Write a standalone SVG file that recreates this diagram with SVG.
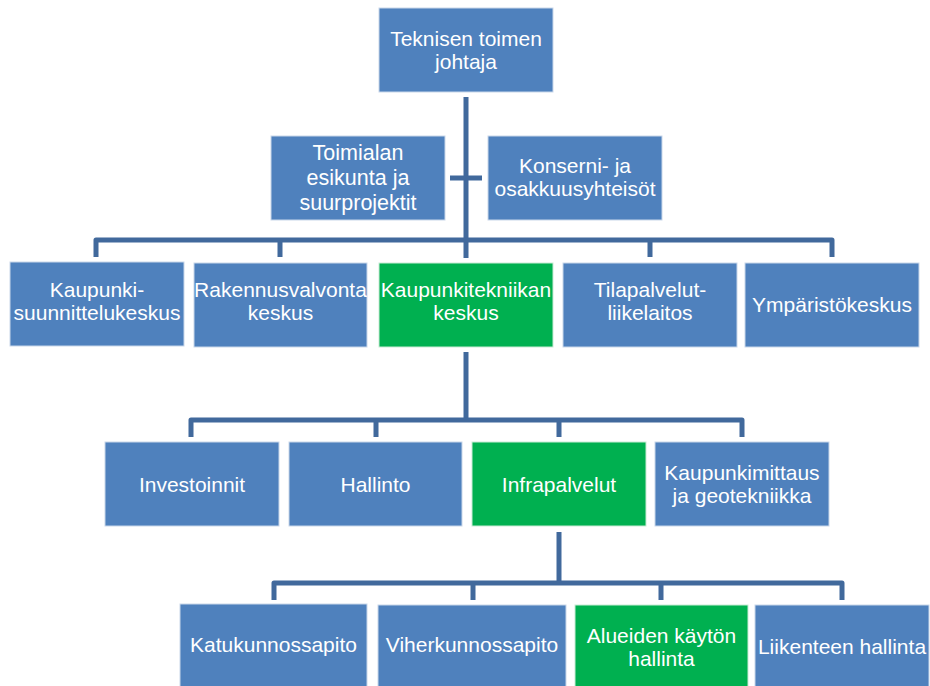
<svg xmlns="http://www.w3.org/2000/svg" width="930" height="686" viewBox="0 0 930 686">
<style>
.b{fill:#4F81BD;stroke:#C9D7EA;stroke-width:1}
.g{fill:#00B050;stroke:#C9EBD5;stroke-width:1}
.t{font-family:"Liberation Sans",Arial,sans-serif;font-size:21px;fill:#FFFFFF;text-anchor:middle}
.tl{font-size:21.5px}
.c{fill:none;stroke:#41699C;stroke-width:5;stroke-linejoin:round}
</style>
<rect width="930" height="686" fill="#FFFFFF"/>
<g id="connectors">
<path class="c" d="M466 97V258"/>
<path class="c" d="M450 178H482"/>
<path class="c" d="M96 257V240H832V257M280 240V257M650 240V257"/>
<path class="c" d="M466 352V420"/>
<path class="c" d="M191 437V420H742V437M376 420V437M559 420V437"/>
<path class="c" d="M559 532V583"/>
<path class="c" d="M274 600V583H842V600M473 583V600M661 583V600"/>
</g>
<g id="n-top"><rect class="b" x="379" y="8" width="174" height="84"/><text class="t" x="466" y="46">Teknisen toimen</text><text class="t" x="466" y="69">johtaja</text></g>
<g id="n-toimiala"><rect class="b" x="271" y="136" width="174" height="84"/><text class="t tl" x="358" y="160">Toimialan</text><text class="t tl" x="358" y="185">esikunta ja</text><text class="t tl" x="358" y="210">suurprojektit</text></g>
<g id="n-konserni"><rect class="b" x="488" y="136" width="174" height="84"/><text class="t" x="575" y="173">Konserni- ja</text><text class="t" x="575" y="196">osakkuusyhteisöt</text></g>
<g id="n-kaupunkisuunnittelu"><rect class="b" x="10" y="262" width="174" height="84"/><text class="t" x="97" y="297">Kaupunki-</text><text class="t" x="97" y="320">suunnittelukeskus</text></g>
<g id="n-rakennusvalvonta"><rect class="b" x="194" y="263" width="173" height="84"/><text class="t" x="280.5" y="297">Rakennusvalvonta</text><text class="t" x="280.5" y="320">keskus</text></g>
<g id="n-kaupunkitekniikka"><rect class="g" x="379" y="263" width="174" height="84"/><text class="t" x="466" y="297">Kaupunkitekniikan</text><text class="t" x="466" y="320">keskus</text></g>
<g id="n-tilapalvelut"><rect class="b" x="563" y="263" width="174" height="84"/><text class="t" x="650" y="297">Tilapalvelut-</text><text class="t" x="650" y="320">liikelaitos</text></g>
<g id="n-ymparisto"><rect class="b" x="745" y="263" width="174" height="84"/><text class="t" x="832" y="312">Ympäristökeskus</text></g>
<g id="n-investoinnit"><rect class="b" x="105" y="442" width="174" height="84"/><text class="t" x="192" y="492">Investoinnit</text></g>
<g id="n-hallinto"><rect class="b" x="289" y="442" width="173" height="84"/><text class="t" x="375.5" y="492">Hallinto</text></g>
<g id="n-infrapalvelut"><rect class="g" x="472" y="442" width="174" height="84"/><text class="t" x="559" y="492">Infrapalvelut</text></g>
<g id="n-kaupunkimittaus"><rect class="b" x="655" y="442" width="174" height="84"/><text class="t" x="742" y="480">Kaupunkimittaus</text><text class="t" x="742" y="503">ja geotekniikka</text></g>
<g id="n-katukunnossapito"><rect class="b" x="180" y="604" width="187" height="84"/><text class="t" x="273.5" y="652">Katukunnossapito</text></g>
<g id="n-viherkunnossapito"><rect class="b" x="378" y="605" width="188" height="84"/><text class="t" x="472" y="652">Viherkunnossapito</text></g>
<g id="n-alueiden"><rect class="g" x="575" y="605" width="173" height="84"/><text class="t" x="661.5" y="643">Alueiden käytön</text><text class="t" x="661.5" y="666">hallinta</text></g>
<g id="n-liikenteen"><rect class="b" x="755" y="605" width="174" height="84"/><text class="t" x="842" y="654">Liikenteen hallinta</text></g>
</svg>
